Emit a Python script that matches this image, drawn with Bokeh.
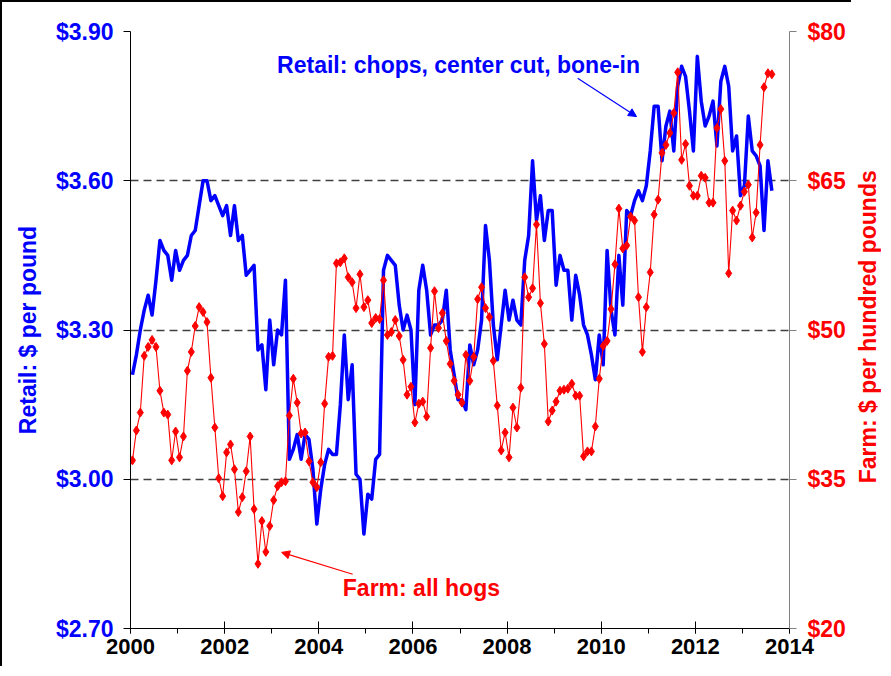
import math
from bokeh.plotting import figure
from bokeh.layouts import row
from bokeh.models import (Range1d, LinearAxis, FixedTicker, NumeralTickFormatter,
                          Label, Arrow, NormalHead)
from bokeh.core.properties import value
from bokeh.embed import file_html
from bokeh.resources import INLINE

# ---------------- data (monthly, Jan 2000 - Aug 2013) ----------------
START_YEAR = 2000
retail = [
    3.21, 3.25, 3.30, 3.34, 3.37, 3.33, 3.40, 3.48, 3.46, 3.45, 3.40, 3.46,
    3.42, 3.44, 3.45, 3.49, 3.50, 3.55, 3.60, 3.60, 3.56, 3.57, 3.55, 3.53,
    3.55, 3.49, 3.55, 3.48, 3.49, 3.41, 3.42, 3.43, 3.26, 3.27, 3.18, 3.32,
    3.23, 3.30, 3.29, 3.40, 3.04, 3.06, 3.09, 3.04, 3.09, 3.08, 3.02, 2.91,
    2.98, 3.03, 3.06, 3.05, 3.05, 3.15, 3.29, 3.16, 3.23, 3.01, 3.00, 2.89,
    2.97, 2.96, 3.04, 3.05, 3.42, 3.45, 3.44, 3.43, 3.35, 3.30, 3.33, 3.30,
    3.15, 3.38, 3.43, 3.38, 3.29, 3.31, 3.31, 3.32, 3.38, 3.26, 3.21, 3.16,
    3.16, 3.14, 3.27, 3.23, 3.26, 3.32, 3.51, 3.44, 3.31, 3.24, 3.31, 3.38,
    3.32, 3.36, 3.32, 3.31, 3.44, 3.49, 3.64, 3.52, 3.57, 3.48, 3.54, 3.54,
    3.39, 3.45, 3.42, 3.42, 3.32, 3.41, 3.37, 3.31, 3.29, 3.25, 3.20, 3.29,
    3.23, 3.46, 3.34, 3.29, 3.45, 3.35, 3.54, 3.53, 3.56, 3.58, 3.56, 3.59,
    3.66, 3.75, 3.75, 3.64, 3.71, 3.74, 3.66, 3.79, 3.83, 3.81, 3.74, 3.66,
    3.85, 3.76, 3.71, 3.73, 3.76, 3.67, 3.80, 3.83, 3.79, 3.66, 3.69, 3.57,
    3.59, 3.73, 3.66, 3.65, 3.63, 3.50, 3.64, 3.58,
]
farm = [
    36.9, 39.9, 41.7, 47.4, 48.3, 49.0, 48.3, 43.9, 41.7, 41.5, 36.9, 39.8,
    37.2, 39.3, 45.9, 47.8, 50.4, 52.3, 51.8, 50.8, 45.2, 40.2, 35.1, 33.3,
    37.7, 38.5, 36.0, 31.7, 33.2, 35.8, 39.3, 32.0, 26.5, 30.8, 27.7, 30.3,
    32.9, 34.3, 34.7, 34.8, 41.4, 45.1, 42.7, 39.6, 39.7, 36.8, 34.7, 34.2,
    36.7, 42.6, 47.3, 47.4, 56.7, 56.8, 57.2, 55.3, 54.8, 52.2, 55.6, 52.3,
    53.0, 50.7, 51.2, 51.1, 55.0, 49.5, 49.8, 51.0, 49.4, 47.0, 43.5, 44.3,
    40.7, 42.6, 42.8, 41.3, 48.2, 53.9, 50.2, 51.7, 48.9, 46.6, 44.9, 43.5,
    42.7, 47.5, 44.9, 47.3, 53.1, 54.3, 52.2, 51.3, 46.9, 42.4, 37.9, 39.7,
    37.2, 42.2, 40.2, 44.2, 55.3, 53.3, 54.2, 60.6, 52.7, 48.6, 40.8, 41.9,
    42.8, 43.9, 44.0, 44.1, 44.6, 43.4, 43.4, 37.3, 37.8, 37.8, 40.3, 45.1,
    48.4, 48.9, 52.1, 56.6, 62.2, 58.2, 58.5, 61.4, 61.0, 53.3, 47.8, 52.3,
    55.8, 61.6, 63.1, 67.8, 68.6, 69.8, 71.8, 75.9, 67.1, 68.7, 64.5, 63.5,
    63.5, 65.5, 65.3, 62.8, 62.8, 70.3, 72.2, 67.0, 55.7, 62.0, 61.0, 62.5,
    63.9, 64.6, 59.3, 61.8, 68.6, 74.4, 75.8, 75.7,
]
x_ticks = [2000, 2002, 2004, 2006, 2008, 2010, 2012, 2014]
x_minor_ticks = list(range(2000, 2015))
left_ticks = [2.70, 3.00, 3.30, 3.60, 3.90]
right_ticks = [20, 35, 50, 65, 80]

left_title = "Retail: $ per pound"
right_title = "Farm: $ per hundred pounds"
retail_note = "Retail: chops, center cut, bone-in"
farm_note = "Farm: all hogs"

t = [START_YEAR + (k + 0.5) / 12 for k in range(len(retail))]

BLUE = "#0000FF"
RED = "#FF0000"
FONT = "'Liberation Sans', Arial, sans-serif"

p = figure(width=851, height=666, x_range=Range1d(2000, 2014),
           y_range=Range1d(2.70, 3.90), output_backend="svg",
           toolbar_location=None, min_border_left=128, min_border_right=64,
           min_border_top=29, min_border_bottom=40)
p.styles = {"border-left": "2px solid black", "border-top": "2px solid black"}
p.extra_y_ranges = {"farm": Range1d(20, 80)}
p.outline_line_color = None
p.background_fill_color = "white"
p.border_fill_color = "white"

# grid
p.xgrid.visible = False
p.ygrid.ticker = FixedTicker(ticks=left_ticks)
p.ygrid.grid_line_color = "#404040"
p.ygrid.grid_line_dash = "8 5"
p.ygrid.grid_line_width = 1.3

# series
p.line(t, retail, color=BLUE, line_width=3.5, line_join="round")
p.line(t, farm, color=RED, line_width=1.1, y_range_name="farm")
p.scatter(t, farm, marker="diamond", size=9, color=RED, y_range_name="farm")

# x axis
xa = p.xaxis[0]
xa.ticker = FixedTicker(ticks=x_ticks, minor_ticks=x_minor_ticks)
xa.major_label_text_font = FONT
xa.major_label_text_font_style = "bold"
xa.major_label_text_font_size = "22px"
xa.major_label_text_color = "black"
xa.axis_line_color = "black"
xa.major_tick_in = 7
xa.major_tick_out = 5
xa.minor_tick_in = 0
xa.minor_tick_out = 5
xa.major_label_standoff = 5

# left axis
ya = p.yaxis[0]
ya.ticker = FixedTicker(ticks=left_ticks)
ya.formatter = NumeralTickFormatter(format="$0.00")
ya.major_label_text_font = FONT
ya.major_label_text_font_style = "bold"
ya.major_label_text_font_size = "23px"
ya.major_label_text_color = BLUE
ya.axis_line_color = "black"
ya.major_tick_in = 0
ya.major_tick_out = 7
ya.minor_tick_line_color = None
ya.major_label_standoff = 10
ya.axis_label = left_title
ya.axis_label_text_font = FONT
ya.axis_label_text_font_style = "bold"
ya.axis_label_text_font_size = "23px"
ya.axis_label_text_color = BLUE
ya.axis_label_standoff = 12

# right axis
ra = LinearAxis(y_range_name="farm", ticker=FixedTicker(ticks=right_ticks),
                formatter=NumeralTickFormatter(format="$0"))
ra.major_label_text_font = FONT
ra.major_label_text_font_style = "bold"
ra.major_label_text_font_size = "23px"
ra.major_label_text_color = RED
ra.axis_line_color = "#808080"
ra.major_tick_line_color = "#808080"
ra.major_tick_in = 0
ra.major_tick_out = 7
ra.minor_tick_line_color = None
ra.major_label_standoff = 11
p.add_layout(ra, "right")

# annotations
p.add_layout(Label(x=2006.97, y=3.832, text=retail_note, text_align="center",
                   text_baseline="middle", text_color=BLUE, text_font=FONT,
                   text_font_style="bold", text_font_size="23px"))
p.add_layout(Arrow(x_start=2009.50, y_start=3.806, x_end=2010.75, y_end=3.729,
                   line_color=BLUE, line_width=1.2,
                   end=NormalHead(size=8, fill_color=BLUE, line_color=BLUE)))
p.add_layout(Label(x=2006.18, y=2.781, text=farm_note, text_align="center",
                   text_baseline="middle", text_color=RED, text_font=FONT,
                   text_font_style="bold", text_font_size="23px"))
p.add_layout(Arrow(x_start=2004.72, y_start=2.809, x_end=2003.21, y_end=2.853,
                   line_color=RED, line_width=1.2,
                   end=NormalHead(size=8, fill_color=RED, line_color=RED)))

# narrow strip carrying the right-axis title, reading bottom-to-top
p2 = figure(width=30, height=666, x_range=Range1d(0, 1), y_range=Range1d(0, 1),
            output_backend="svg", toolbar_location=None, min_border=0)
p2.axis.visible = False
p2.grid.visible = False
p2.outline_line_color = None
p2.background_fill_color = "white"
p2.border_fill_color = "white"
p2.text(x=[0.55], y=[0.502], text=[right_title], angle=math.pi / 2,
        text_align="center", text_baseline="middle", text_color=RED,
        text_font=value(FONT), text_font_style="bold", text_font_size="23px")

layout = row(p, p2, spacing=0)
open("out.html", "w").write(file_html(layout, INLINE))
